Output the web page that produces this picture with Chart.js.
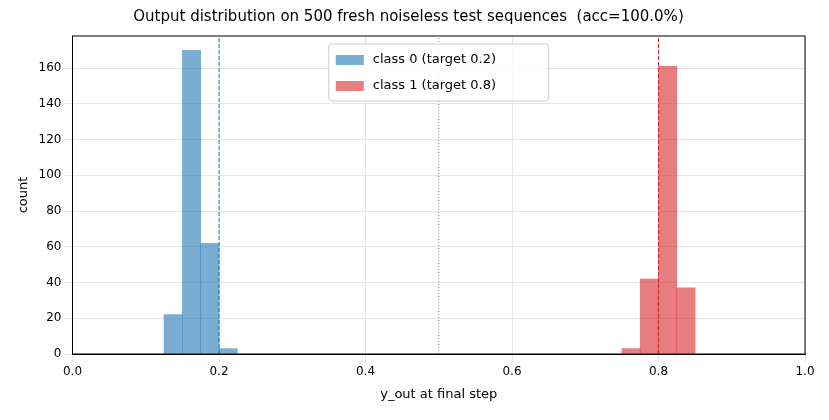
<!DOCTYPE html>
<html><head><script src="https://cdn.jsdelivr.net/npm/chart.js@4"></script>
<style>body{margin:0;background:#fff}#w{width:829px;height:420px}</style></head>
<body><div id="w"><canvas id="c"></canvas></div>
<script>
const binCenters0=[0.1375,0.1625,0.1875,0.2125];
const counts0=[22,170,62,3];
const binCenters1=[0.7625,0.7875,0.8125,0.8375];
const counts1=[3,42,161,37];
const xTicks=[0,0.2,0.4,0.6,0.8,1.0];
const yTicks=[0,20,40,60,80,100,120,140,160];
const pts=(xs,ys)=>xs.map((x,i)=>({x,y:ys[i]}));
const vline=(x,color,dash)=>({type:'line',data:[{x,y:0},{x,y:178}],borderColor:color,borderWidth:1,borderDash:dash,pointRadius:0,fill:false});
Chart.defaults.font.family='DejaVu Sans';
Chart.defaults.color='#000';
new Chart(document.getElementById('c'),{
 data:{datasets:[
  {type:'bar',label:'class 0 (target 0.2)',data:pts(binCenters0,counts0),backgroundColor:'rgba(31,119,180,0.6)',barPercentage:1,categoryPercentage:1,grouped:false,borderWidth:0},
  {type:'bar',label:'class 1 (target 0.8)',data:pts(binCenters1,counts1),backgroundColor:'rgba(214,39,40,0.6)',barPercentage:1,categoryPercentage:1,grouped:false,borderWidth:0},
  vline(0.2,'#1f77b4',[4,2]),vline(0.8,'#d62728',[4,2]),vline(0.5,'#808080',[1,2])
 ]},
 options:{responsive:true,maintainAspectRatio:false,animation:false,
  layout:{padding:{left:12,right:24,top:2,bottom:14}},
  plugins:{title:{display:true,text:'Output distribution on 500 fresh noiseless test sequences  (acc=100.0%)',font:{size:15,weight:'normal'},padding:{top:6,bottom:10}},
   legend:{display:false},tooltip:{enabled:false}},
  scales:{
   x:{type:'linear',min:0,max:1,offset:false,afterBuildTicks:a=>{a.ticks=xTicks.map(v=>({value:v}))},ticks:{font:{size:12},callback:v=>v.toFixed(1)},grid:{color:'#e5e5e5',offset:false},border:{color:'#000'},title:{display:true,text:'y_out at final step',font:{size:13}}},
   y:{min:0,max:178,afterBuildTicks:a=>{a.ticks=yTicks.map(v=>({value:v}))},ticks:{font:{size:12}},grid:{color:'#e5e5e5'},border:{color:'#000'},title:{display:true,text:'count',font:{size:13}}}
  }},
 plugins:[{id:'frame',afterDraw(c){const a=c.chartArea,x=c.ctx;x.save();x.strokeStyle='#000';x.lineWidth=1;x.strokeRect(a.left,a.top,a.width,a.height);
  const ds=c.data.datasets.slice(0,2);const lx=(a.left+a.right)/2-110,ly=a.top+8,w=220,h=57;
  x.fillStyle='rgba(255,255,255,0.85)';x.strokeStyle='#ccc';x.beginPath();x.roundRect(lx,ly,w,h,3);x.fill();x.stroke();
  x.font='13px DejaVu Sans';x.textBaseline='middle';
  ds.forEach((d,i)=>{const yy=ly+16+i*26;x.fillStyle=d.backgroundColor;x.fillRect(lx+7,yy-5,28,10);x.fillStyle='#000';x.fillText(d.label,lx+44,yy);});
  x.restore();}}]
});
</script></body></html>
